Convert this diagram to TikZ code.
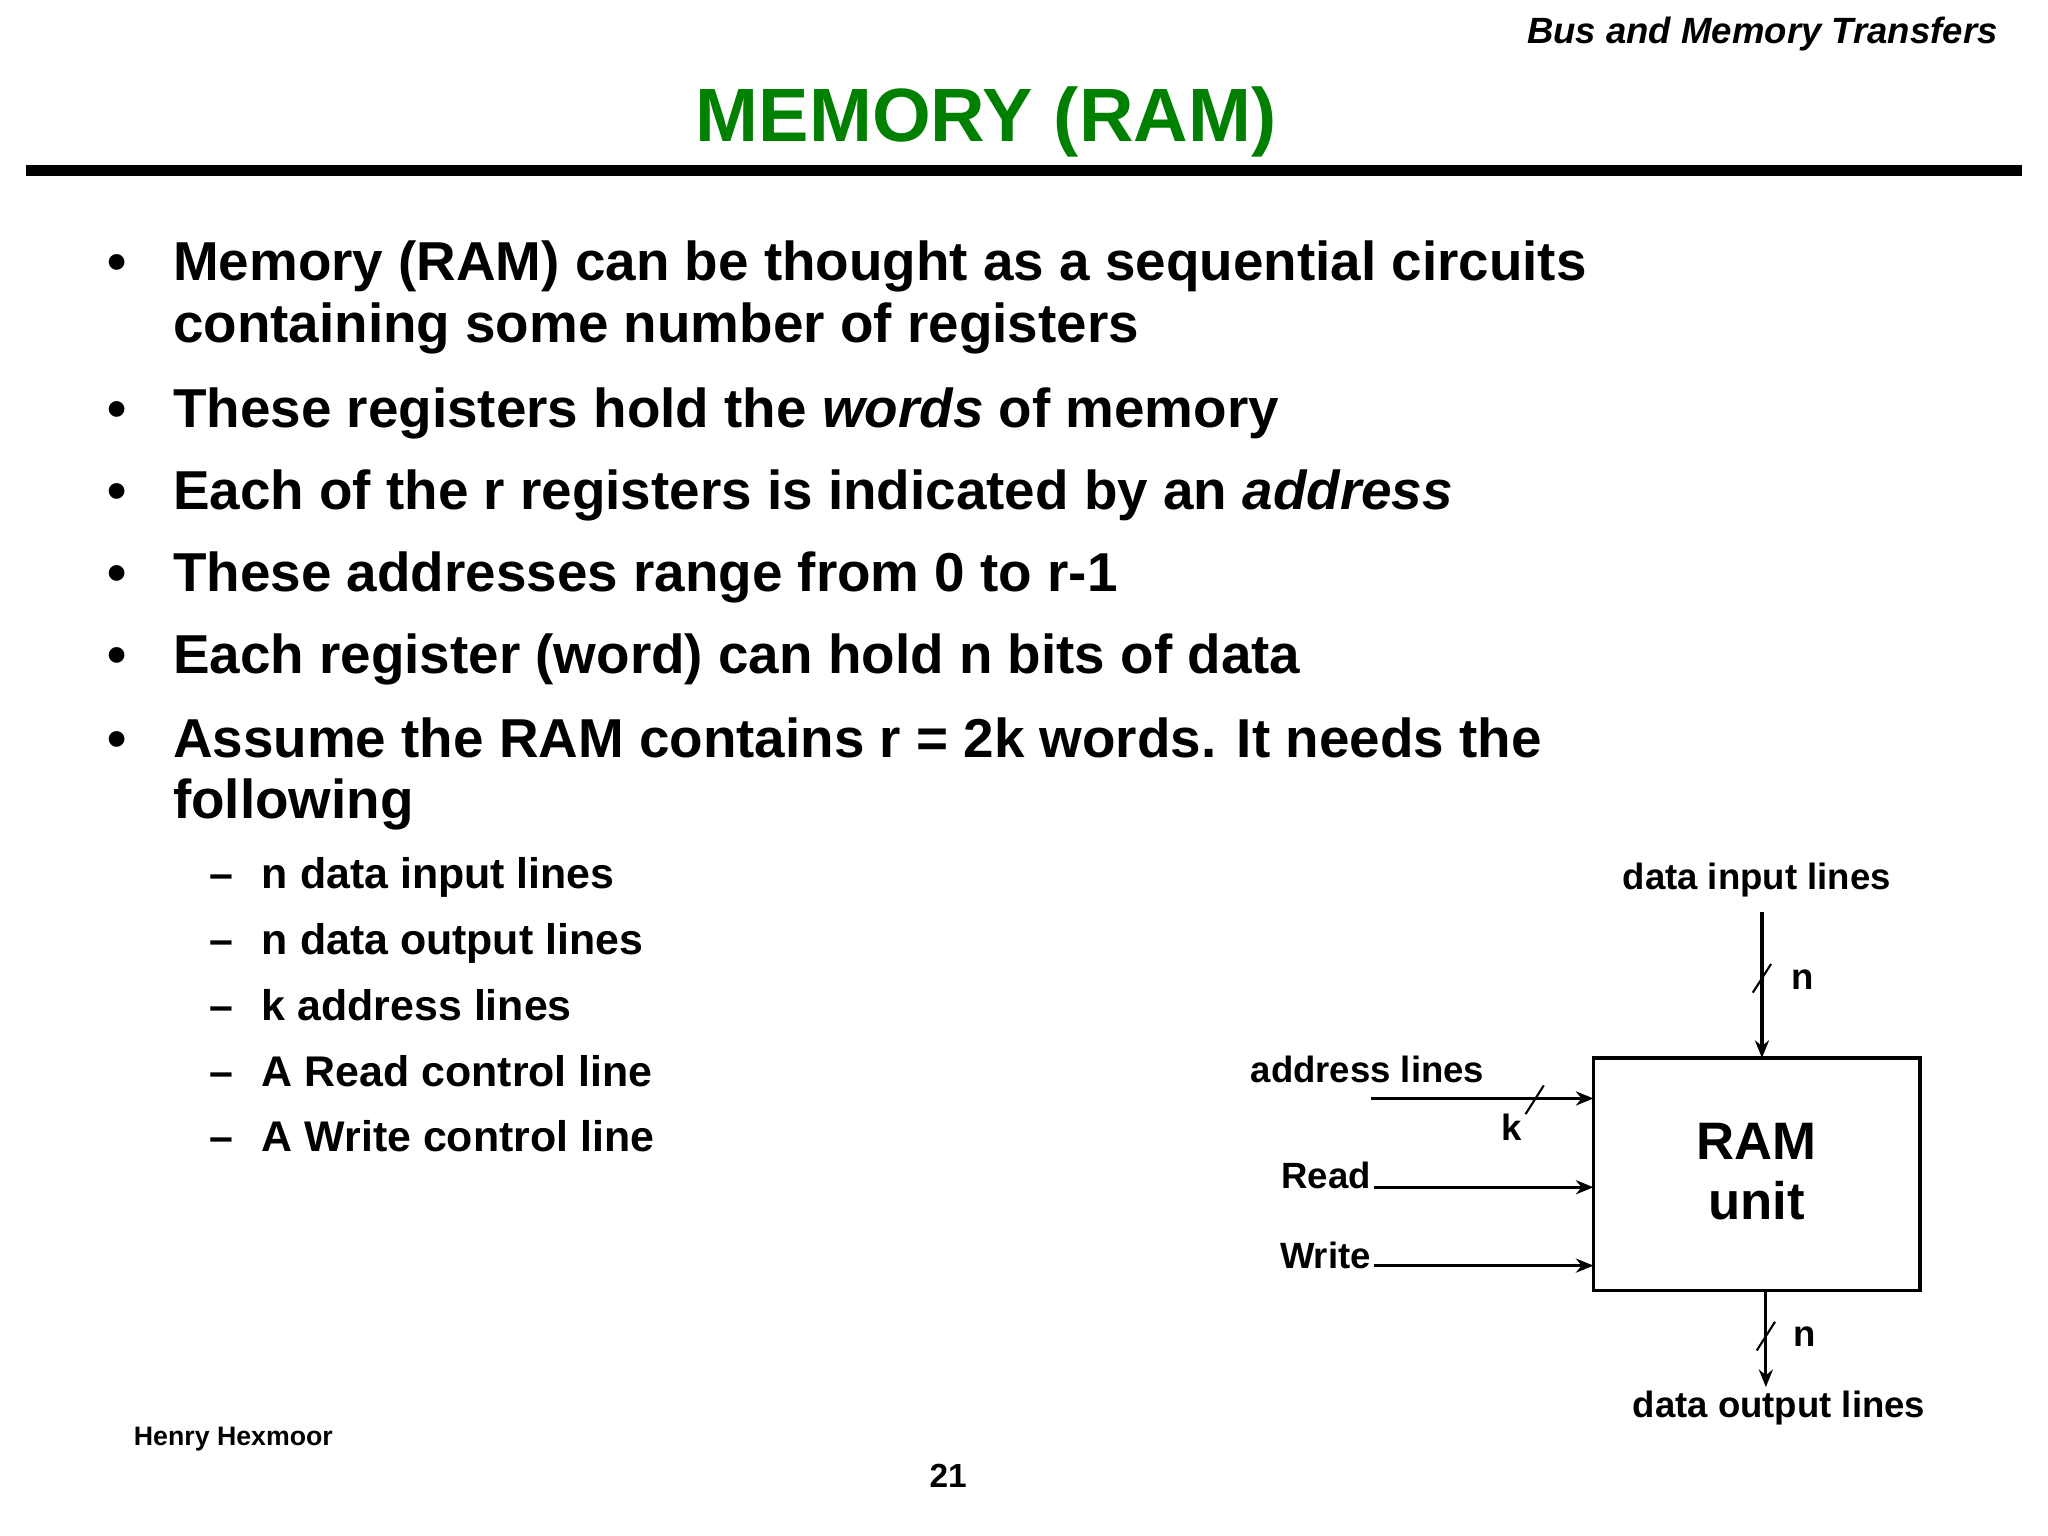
\documentclass[tikz,border=0pt]{standalone}
\usepackage{fontspec}
\setmainfont{Liberation Sans}
\usetikzlibrary{arrows.meta}
\definecolor{titlegreen}{RGB}{0,128,0}
\tikzset{
  txt/.style={anchor=base west, inner sep=0pt, font=\bfseries\fontsize{15.6}{18}\selectfont},
  subtxt/.style={anchor=base west, inner sep=0pt, font=\bfseries\fontsize{12.2}{14}\selectfont},
  lbl/.style={inner sep=0pt, font=\bfseries\fontsize{10.4}{12}\selectfont},
  wire/.style={line width=0.9pt, -{Stealth[length=5pt,width=4pt]}},
  bus/.style={line width=0.6pt}
}
\begin{document}
\begin{tikzpicture}[x=0.01306cm, y=-0.01306cm]
		\useasboundingbox (0,0) rectangle (1568,1176);
		%=========== header ===========================
		\node[lbl, anchor=base east, font=\bfseries\itshape\fontsize{10.4}{12}\selectfont] (hdr) at (1530,33) {Bus and Memory Transfers};
		\node[inner sep=0pt, anchor=base, text=titlegreen, font=\bfseries\fontsize{21.5}{24}\selectfont] (title) at (755,108) {MEMORY (RAM)};
		\fill (20,126) rectangle (1548,135);
		%=========== bullets, from top to bottom ===========================
		\foreach \y/\t in {215/{Memory (RAM) can be thought as a sequential circuits},
		                   327/{These registers hold the \textit{words} of memory},
		                   390/{Each of the r registers is indicated by an \textit{address}},
		                   453/{These addresses range from 0 to r-1},
		                   516/{Each register (word) can hold n bits of data},
		                   580/{Assume the RAM contains r = 2k words. It needs the}}
		  {\node[txt] at (82,\y) {\textbullet}; \node[txt] at (132,\y) {\t};}
		\node[txt] (cont1) at (132,262) {containing some number of registers};
		\node[txt] (cont2) at (132,627) {following};
		\foreach \y/\t in {680/n data input lines, 731/n data output lines, 781/k address lines,
		                   832/A Read control line, 882/A Write control line}
		  {\node[subtxt] at (160,\y) {--}; \node[subtxt] at (200,\y) {\t};}
		%=========== RAM unit ===========================
		\draw[line width=1pt] (1220,810) rectangle (1470,988);
		\node[lbl, align=center, font=\bfseries\fontsize{15}{17}\selectfont] (ram) at (1345,897) {RAM\\unit};
		\coordinate (din) at (1349,698);   \coordinate (dintop) at (1349,810);
		\coordinate (dout) at (1352,988);  \coordinate (doutend) at (1352,1062);
		\coordinate (adr) at (1050,841);   \coordinate (adrend) at (1220,841);
		\coordinate (rd) at (1052,909);    \coordinate (rdend) at (1220,909);
		\coordinate (wr) at (1052,969);    \coordinate (wrend) at (1220,969);
		\draw[wire] (din) -- (dintop);
		\draw[wire] (dout) -- (doutend);
		\draw[wire] (adr) -- (adrend);
		\draw[wire] (rd) -- (rdend);
		\draw[wire] (wr) -- (wrend);
		\draw[bus] (1342,760) -- (1356,738);
		\draw[bus] (1345,1034) -- (1359,1012);
		\draw[bus] (1168,853) -- (1182,831);
		\node[lbl] (nin) at (1380,750) {n};
		\node[lbl] (nout) at (1382,1023) {n};
		\node[lbl] (k) at (1157,863) {k};
		\node[lbl] (dil) at (1345,674) {data input lines};
		\node[lbl] (dol) at (1362,1078) {data output lines};
		\node[lbl] (al) at (1047,819) {address lines};
		\node[lbl, anchor=base east] (rdl) at (1050,910) {Read};
		\node[lbl, anchor=base east] (wrl) at (1050,971) {Write};
		%=========== footer ===========================
		\node[inner sep=0pt, anchor=base west, font=\bfseries\fontsize{7.6}{9}\selectfont] (auth) at (102,1107) {Henry Hexmoor};
		\node[inner sep=0pt, anchor=base, font=\bfseries\fontsize{9.5}{11}\selectfont] (pg) at (726,1139) {21};
	\end{tikzpicture}
\end{document}
